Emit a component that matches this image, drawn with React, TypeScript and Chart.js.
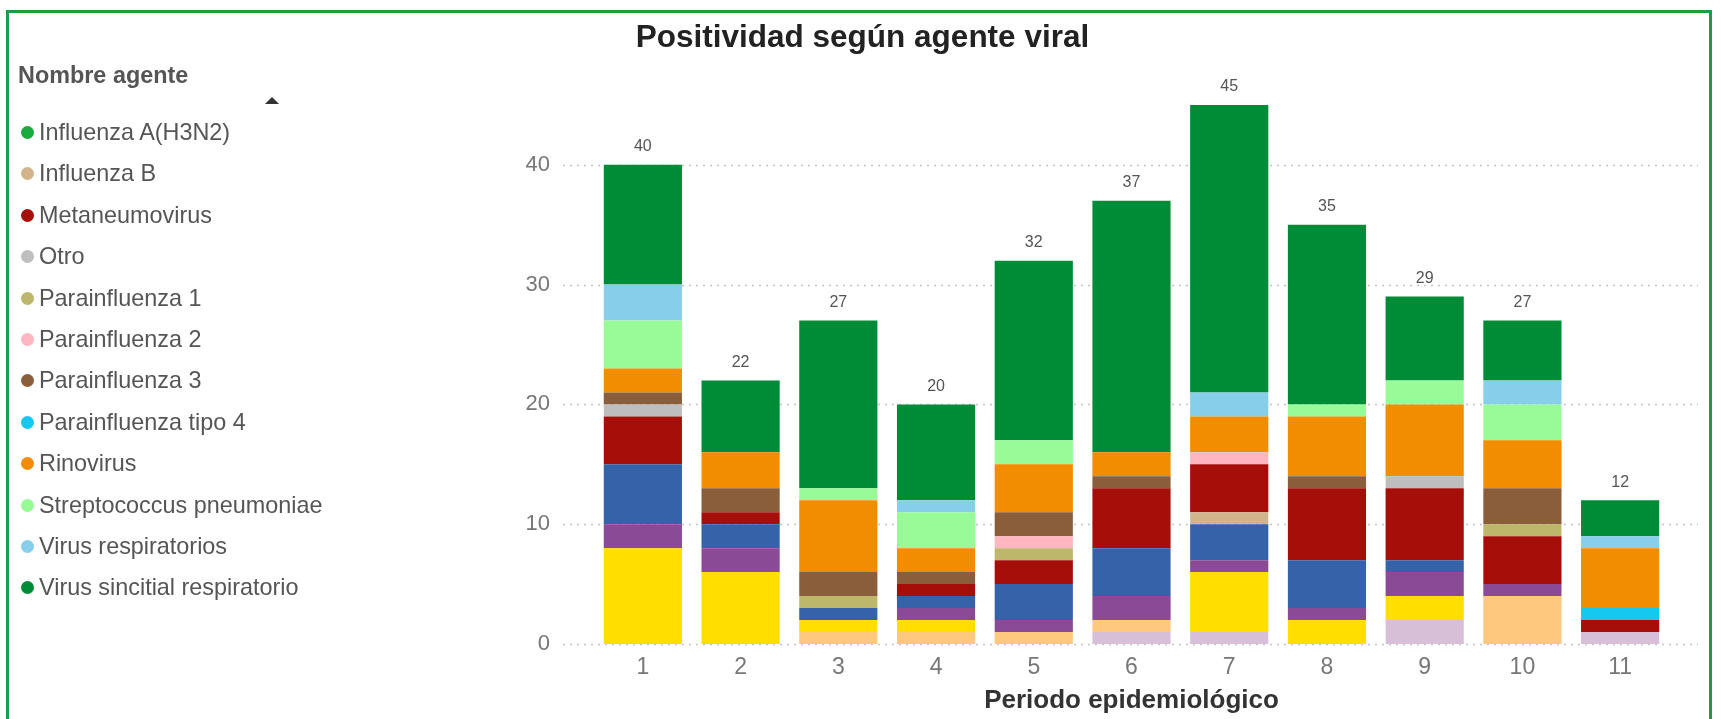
import React, { useEffect, useRef } from 'react';
import { Chart, registerables } from 'chart.js';

Chart.register(...registerables);

const FONT = '"Liberation Sans", Arial, Helvetica, sans-serif';

// Categories (Periodo epidemiológico)
const periods = ['1', '2', '3', '4', '5', '6', '7', '8', '9', '10', '11'];

// Series (stacked bottom → top, alphabetical as in the legend)
const adenovirus = [0, 0, 0, 0, 0, 1, 1, 0, 2, 0, 1];
const bocavirus = [0, 0, 1, 1, 1, 1, 0, 0, 0, 4, 0];
const coronavirus = [8, 6, 1, 1, 0, 0, 5, 2, 2, 0, 0];
const enterovirus = [2, 2, 0, 1, 1, 2, 1, 1, 2, 1, 0];
const influenzaAH1N1 = [5, 2, 1, 1, 3, 4, 3, 4, 1, 0, 0];
const influenzaAH3N2 = [0, 0, 0, 0, 0, 0, 0, 0, 0, 0, 0];
const influenzaB = [0, 0, 0, 0, 0, 0, 1, 0, 0, 0, 0];
const metaneumovirus = [4, 1, 0, 1, 2, 5, 4, 6, 6, 4, 1];
const otro = [1, 0, 0, 0, 0, 0, 0, 0, 1, 0, 0];
const parainfluenza1 = [0, 0, 1, 0, 1, 0, 0, 0, 0, 1, 0];
const parainfluenza2 = [0, 0, 0, 0, 1, 0, 1, 0, 0, 0, 0];
const parainfluenza3 = [1, 2, 2, 1, 2, 1, 0, 1, 0, 3, 0];
const parainfluenza4 = [0, 0, 0, 0, 0, 0, 0, 0, 0, 0, 1];
const rinovirus = [2, 3, 6, 2, 4, 2, 3, 5, 6, 4, 5];
const streptococcus = [4, 0, 1, 3, 2, 0, 0, 1, 2, 3, 0];
const virusRespiratorios = [3, 0, 0, 1, 0, 0, 2, 0, 0, 2, 1];
const vsr = [10, 6, 14, 8, 15, 21, 24, 15, 7, 5, 3];

const yTickValues = [0, 10, 20, 30, 40];

const seriesNames = [
  'Adenovirus', 'Bocavirus', 'Coronavirus', 'Enterovirus', 'Influenza A(H1N1)pdm09',
  'Influenza A(H3N2)', 'Influenza B', 'Metaneumovirus', 'Otro', 'Parainfluenza 1',
  'Parainfluenza 2', 'Parainfluenza 3', 'Parainfluenza tipo 4', 'Rinovirus',
  'Streptococcus pneumoniae', 'Virus respiratorios', 'Virus sincitial respiratorio',
];
const seriesValues = [
  adenovirus, bocavirus, coronavirus, enterovirus, influenzaAH1N1,
  influenzaAH3N2, influenzaB, metaneumovirus, otro, parainfluenza1,
  parainfluenza2, parainfluenza3, parainfluenza4, rinovirus,
  streptococcus, virusRespiratorios, vsr,
];
const seriesColors = [
  '#D8BFD8', '#FFC87F', '#FFDE00', '#8A4A96', '#3562A8',
  '#1AAA3F', '#D2B48C', '#A60E0A', '#BEBEBE', '#BDB76B',
  '#FFB6C1', '#8B5E3B', '#14C8F0', '#F28C00',
  '#98FB98', '#87CEEB', '#008C37',
];
// Legend shows entries from "Influenza A(H3N2)" onward (scrolled legend)
const legendStart = 5;

const dottedGrid = {
  id: 'dottedGrid',
  beforeDatasetsDraw(chart: any) {
    const { ctx, chartArea, scales } = chart;
    const y = scales.y;
    ctx.save();
    ctx.strokeStyle = '#C4C4C4';
    ctx.lineWidth = 1.5;
    ctx.setLineDash([2, 5]);
    for (const v of yTickValues) {
      const py = Math.round(y.getPixelForValue(v)) + 0.5;
      ctx.beginPath();
      ctx.moveTo(chartArea.left - 31, py);
      ctx.lineTo(chartArea.right + 29, py);
      ctx.stroke();
    }
    ctx.restore();
  },
};

const totalsLabels = {
  id: 'totalsLabels',
  afterDatasetsDraw(chart: any) {
    const { ctx, scales } = chart;
    const x = scales.x;
    const y = scales.y;
    ctx.save();
    ctx.font = `16px ${FONT}`;
    ctx.fillStyle = '#555555';
    ctx.textAlign = 'center';
    ctx.textBaseline = 'middle';
    periods.forEach((_, i) => {
      const total = seriesValues.reduce((s, arr) => s + arr[i], 0);
      const px = x.getPixelForValue(i);
      const py = y.getPixelForValue(total);
      ctx.fillText(String(total), px, py - 18);
    });
    ctx.restore();
  },
};

export default function App() {
  const canvasRef = useRef<HTMLCanvasElement>(null);

  useEffect(() => {
    if (!canvasRef.current) return;
    const chart = new Chart(canvasRef.current, {
      type: 'bar',
      data: {
        labels: periods,
        datasets: seriesNames.map((name, i) => ({
          label: name,
          data: seriesValues[i],
          backgroundColor: seriesColors[i],
          borderWidth: 0,
          categoryPercentage: 1,
          barPercentage: 0.8,
        })),
      },
      options: {
        responsive: false,
        animation: false,
        layout: { padding: { left: 494, right: 52, top: 45, bottom: 0 } },
        plugins: {
          legend: { display: false },
          title: { display: false },
          tooltip: { enabled: false },
        },
        scales: {
          x: {
            stacked: true,
            grid: { display: false, drawTicks: false },
            border: { display: false },
            ticks: {
              color: '#777777',
              font: { family: FONT, size: 23 },
              padding: 10,
            },
            title: {
              display: true,
              text: 'Periodo epidemiológico',
              color: '#333333',
              font: { family: FONT, size: 26, weight: 'bold' },
              padding: { top: 0, bottom: 3 },
            },
            afterFit: (scale: any) => { scale.height = 75; },
          },
          y: {
            stacked: true,
            min: 0,
            max: 50,
            grid: { display: false, drawTicks: true, tickLength: 44 },
            border: { display: false },
            ticks: {
              color: '#777777',
              font: { family: FONT, size: 22 },
              padding: 0,
            },
            afterBuildTicks: (scale: any) => {
              scale.ticks = yTickValues.map((v) => ({ value: v }));
            },
            afterFit: (scale: any) => { scale.width = 100; },
          },
        },
      },
      plugins: [dottedGrid, totalsLabels],
    });
    return () => chart.destroy();
  }, []);

  return (
    <div style={{ position: 'absolute', left: 0, top: 0, width: 1721, height: 719, overflow: 'hidden', background: '#fff', fontFamily: FONT }}>
      <div style={{ position: 'absolute', left: 6, top: 10, width: 1706, height: 740, border: '3px solid #1E9B47', boxSizing: 'border-box' }} />
      <canvas ref={canvasRef} width={1721} height={719} style={{ position: 'absolute', left: 0, top: 0, width: 1721, height: 719 }} />
      <div style={{ position: 'absolute', left: 0, top: 21, width: 1725, textAlign: 'center', fontSize: 31.5, lineHeight: '31px', fontWeight: 'bold', color: '#222' }}>
        Positividad según agente viral
      </div>
      <div style={{ position: 'absolute', left: 18, top: 64, fontSize: 23.4, lineHeight: '23px', fontWeight: 'bold', color: '#555' }}>
        Nombre agente
      </div>
      <div style={{ position: 'absolute', left: 265, top: 97, width: 0, height: 0, borderLeft: '7.5px solid transparent', borderRight: '7.5px solid transparent', borderBottom: '7px solid #333' }} />
      {seriesNames.slice(legendStart).map((name, k) => {
        const idx = legendStart + k;
        const cy = 132.5 + 41.4 * k;
        return (
          <div key={name} style={{ position: 'absolute', left: 21, top: cy - 20.7, height: 41.4, display: 'flex', alignItems: 'center', whiteSpace: 'nowrap' }}>
            <span style={{ display: 'inline-block', width: 13, height: 13, borderRadius: '50%', background: seriesColors[idx], marginRight: 5 }} />
            <span style={{ fontSize: 23.4, color: '#555' }}>{name}</span>
          </div>
        );
      })}
    </div>
  );
}
